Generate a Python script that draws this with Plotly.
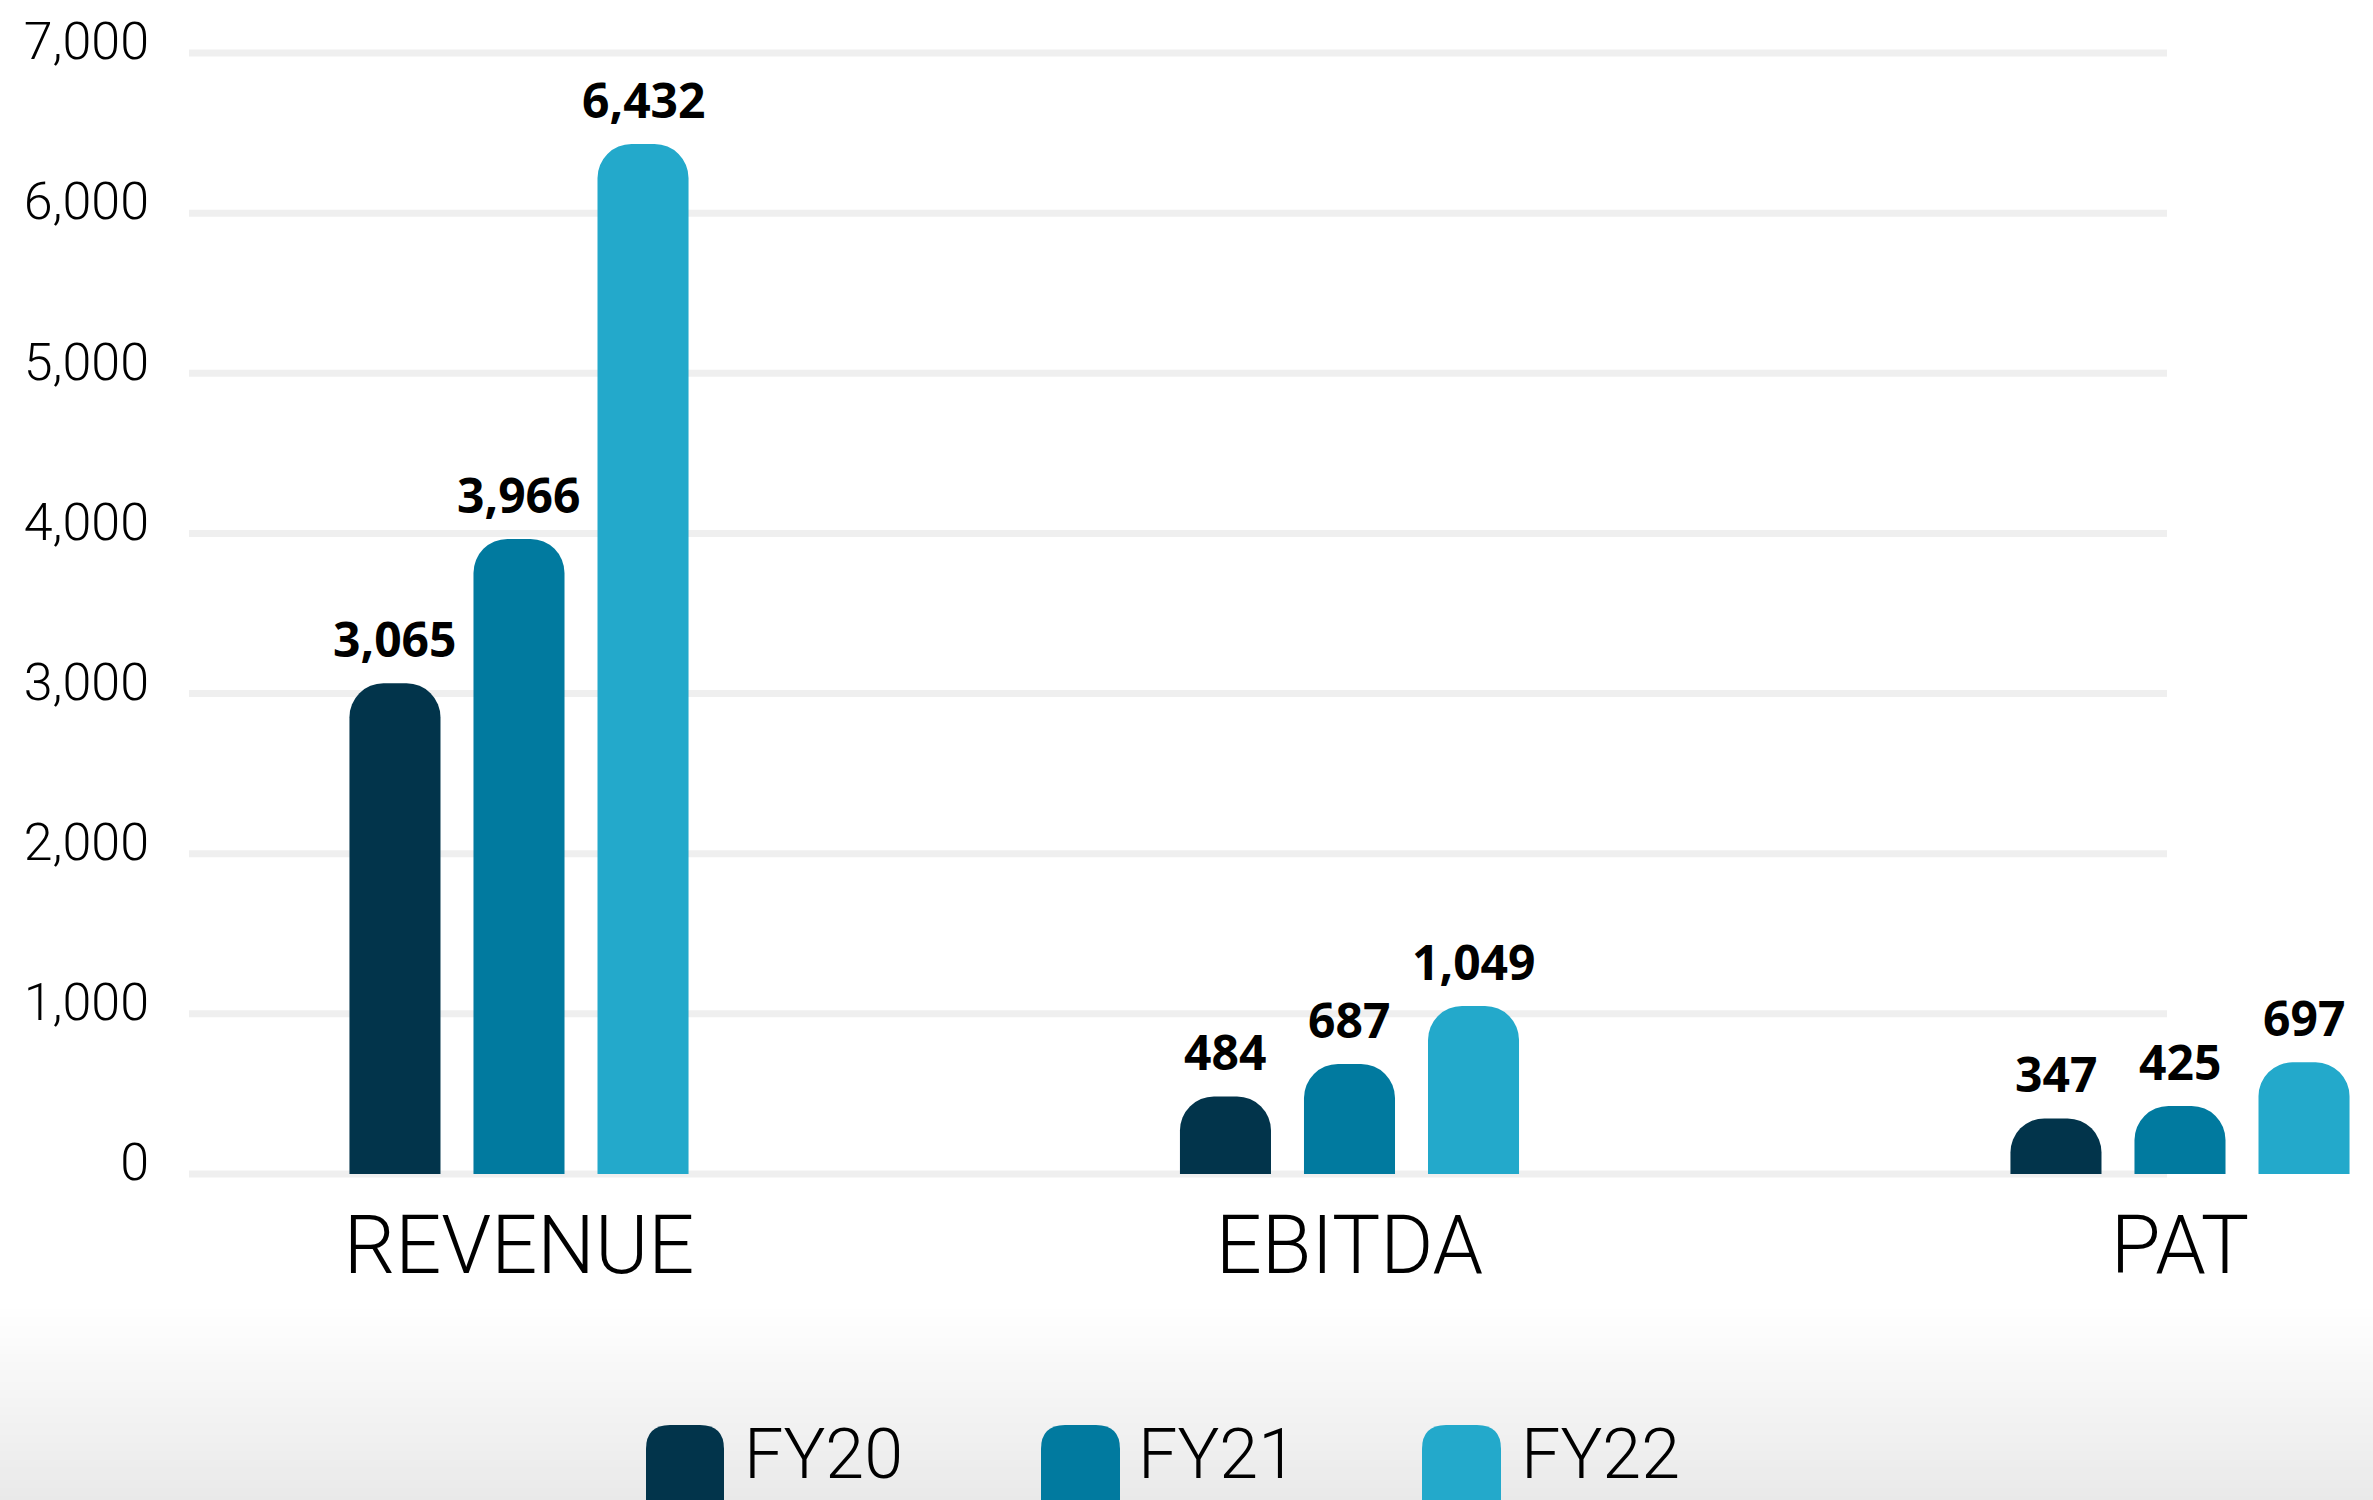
import plotly.graph_objects as go

# ---------------- data ----------------
categories = ["REVENUE", "EBITDA", "PAT"]
series_names = ["FY20", "FY21", "FY22"]
fy20 = [3065, 484, 347]
fy21 = [3966, 687, 425]
fy22 = [6432, 1049, 697]
y_tickvals = [0, 1000, 2000, 3000, 4000, 5000, 6000, 7000]
y_ticktext = ["0", "1,000", "2,000", "3,000", "4,000", "5,000", "6,000", "7,000"]

# ---------------- style ----------------
colors = ["#02344b", "#017a9f", "#23a9cb"]
W_FIG, H_FIG = 2373, 1500
M_L, M_R, M_T, M_B = 150, 0, 5, 302
PLOT_W = W_FIG - M_L - M_R
PLOT_H = H_FIG - M_T - M_B
BARGAP = 0.552
BARGROUPGAP = 0.266
X_RANGE = [-0.4443, 2.2324]
Y_RANGE = [-150, 7300]
THIN = dict(family="Roboto, 'Open Sans', sans-serif", weight=300, color="#000000")
BOLD = dict(family="'Open Sans', Lato, sans-serif", weight=700, color="#000000")


def px_to_paper_x(px):
    return (px - M_L) / PLOT_W


def px_to_paper_y(py):
    return (H_FIG - M_B - py) / PLOT_H


fig = go.Figure()
all_series = [fy20, fy21, fy22]
for name, vals, col in zip(series_names, all_series, colors):
    fig.add_trace(go.Bar(
        x=categories, y=vals, name=name,
        marker=dict(color=col, line=dict(width=0)),
        hoverinfo="skip",
    ))

shapes = []
# background gradient at the bottom
top_px, bot_px = 1305, 1500
n_bands = 48
for k in range(n_bands):
    y0p = top_px + (bot_px - top_px) * k / n_bands
    y1p = top_px + (bot_px - top_px) * (k + 1) / n_bands + 1.0
    t = (k + 0.5) / n_bands
    c = round(255 - (255 - 233) * t)
    shapes.append(dict(type="rect", xref="paper", yref="paper",
                       x0=px_to_paper_x(-20), x1=px_to_paper_x(W_FIG + 20),
                       y0=px_to_paper_y(y1p), y1=px_to_paper_y(y0p),
                       fillcolor=f"rgb({c},{c},{c})", line=dict(width=0),
                       layer="below"))

# horizontal gridlines
for v in y_tickvals:
    shapes.append(dict(type="line", xref="paper", yref="y",
                       x0=px_to_paper_x(189), x1=px_to_paper_x(2167),
                       y0=v, y1=v, line=dict(color="#efefef", width=7),
                       layer="below"))


# custom legend (rounded swatches)
def rounded_rect(x0, y0, x1, y1, r):
    X = px_to_paper_x
    Y = px_to_paper_y
    return (f"M {X(x0 + r)},{Y(y0)} L {X(x1 - r)},{Y(y0)} "
            f"Q {X(x1)},{Y(y0)} {X(x1)},{Y(y0 + r)} "
            f"L {X(x1)},{Y(y1 - r)} Q {X(x1)},{Y(y1)} {X(x1 - r)},{Y(y1)} "
            f"L {X(x0 + r)},{Y(y1)} Q {X(x0)},{Y(y1)} {X(x0)},{Y(y1 - r)} "
            f"L {X(x0)},{Y(y0 + r)} Q {X(x0)},{Y(y0)} {X(x0 + r)},{Y(y0)} Z")


legend_swatch_x = [(646, 724), (1041, 1120), (1422, 1501)]
legend_text_x = [742, 1136, 1519]
annotations = []
for (sx0, sx1), tx, name, col in zip(legend_swatch_x, legend_text_x, series_names, colors):
    shapes.append(dict(type="path", xref="paper", yref="paper",
                       path=rounded_rect(sx0, 1425, sx1, 1525, 24),
                       fillcolor=col, line=dict(width=0), layer="above"))
    annotations.append(dict(xref="paper", yref="paper",
                            x=px_to_paper_x(tx), y=px_to_paper_y(1454),
                            xanchor="left", yanchor="middle", showarrow=False,
                            text=name, font=dict(size=70, **THIN)))

# value labels above bars
slot = (1 - BARGAP) / len(series_names)
for s, vals in enumerate(all_series):
    for ci, v in enumerate(vals):
        annotations.append(dict(xref="x", yref="y",
                                x=ci + (s - (len(series_names) - 1) / 2) * slot,
                                y=v, yshift=10, xanchor="center", yanchor="bottom",
                                showarrow=False, text=f"{v:,}",
                                font=dict(size=48, **BOLD)))

fig.update_layout(
    width=W_FIG, height=H_FIG,
    margin=dict(l=M_L, r=M_R, t=M_T, b=M_B, pad=0),
    paper_bgcolor="#ffffff", plot_bgcolor="rgba(0,0,0,0)",
    barmode="group", bargap=BARGAP, bargroupgap=BARGROUPGAP,
    barcornerradius=34,
    showlegend=False,
    shapes=shapes, annotations=annotations,
    xaxis=dict(type="category", range=X_RANGE, showgrid=False, zeroline=False,
               showline=False, ticks="", tickfont=dict(size=81, **THIN),
               ticklabelstandoff=-7, fixedrange=True),
    yaxis=dict(range=Y_RANGE, tickvals=y_tickvals, ticktext=y_ticktext,
               showgrid=False, zeroline=False, showline=False, ticks="",
               tickfont=dict(size=52, **THIN), ticklabelshift=-12,
               fixedrange=True),
)

fig.write_html("out.html",
               config={"displayModeBar": False, "staticPlot": True},
               post_script="document.body.style.margin='0';document.body.style.overflow='hidden';")
